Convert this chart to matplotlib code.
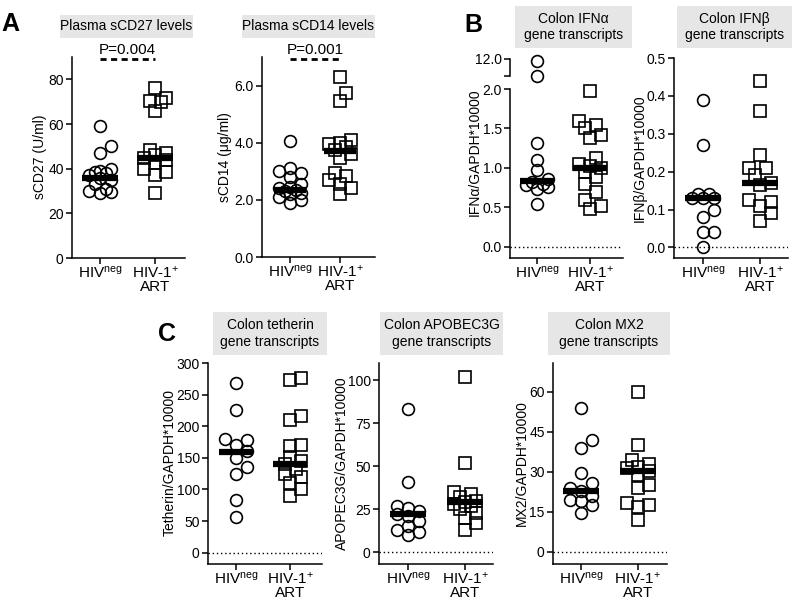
import numpy as np
import matplotlib
matplotlib.use("Agg")
import matplotlib.pyplot as plt
from matplotlib.patches import Rectangle
from matplotlib.ticker import FormatStrFormatter

plt.rcParams['font.family'] = ['Liberation Sans', 'DejaVu Sans']
plt.rcParams['mathtext.default'] = 'regular'

W, H = 800, 601

groups = ["HIV$^{neg}$", "HIV-1$^{+}$\nART"]

# A: plasma markers
scd27_neg = [59, 50, 47, 40, 39, 38.5, 38, 37, 36, 35, 33, 31, 30, 29.5, 29]
scd27_pos = [76, 71.5, 70.5, 70, 66, 48.5, 47, 46, 45, 44, 42.5, 40, 38.5, 37, 29]
scd27_med = [36, 45]
scd14_neg = [4.05, 3.1, 3.0, 2.95, 2.8, 2.55, 2.45, 2.4, 2.35, 2.3, 2.25, 2.2, 2.1, 2.0, 1.9]
scd14_pos = [6.3, 5.75, 5.45, 4.1, 4.0, 3.95, 3.85, 3.75, 3.6, 3.45, 2.95, 2.85, 2.7, 2.55, 2.4, 2.2]
scd14_med = [2.35, 3.7]
p_scd27 = "P=0.004"
p_scd14 = "P=0.001"

# B: colon interferons
ifna_neg = [11.0, 2.2, 1.32, 1.10, 0.97, 0.86, 0.82, 0.80, 0.78, 0.76, 0.74, 0.54]
ifna_pos = [1.98, 1.60, 1.54, 1.50, 1.42, 1.38, 1.13, 1.05, 1.02, 1.00, 0.95, 0.88, 0.80, 0.70, 0.60, 0.52, 0.48]
ifna_med = [0.84, 1.0]
ifnb_neg = [0.39, 0.27, 0.14, 0.14, 0.13, 0.13, 0.13, 0.10, 0.08, 0.04, 0.04, 0.0]
ifnb_pos = [0.44, 0.36, 0.245, 0.21, 0.21, 0.19, 0.17, 0.165, 0.125, 0.12, 0.11, 0.09, 0.07]
ifnb_med = [0.13, 0.17]

# C: restriction factors
teth_neg = [269, 226, 180, 178, 170, 160, 150, 135, 125, 83, 57]
teth_pos = [276, 273, 216, 210, 170, 168, 152, 145, 141, 132, 125, 120, 110, 100, 90]
teth_med = [159, 141]
apo_neg = [83, 41, 27, 26, 24, 22, 21, 18, 15, 13, 12, 10]
apo_pos = [102, 52, 35, 34, 32, 30, 29, 28, 27, 25, 23, 20, 17, 13]
apo_med = [22, 29]
mx2_neg = [54, 42, 39, 29.5, 26, 24, 23, 21, 19.5, 19, 17.5, 14.5]
mx2_pos = [60, 40, 34.5, 33, 32, 31.5, 30.5, 29, 25, 24, 18.5, 17.5, 17, 12]
mx2_med = [23, 30.5]

fig = plt.figure(figsize=(8, 6.01), dpi=100)

TICK_FS = 10
XT_FS = 11
LAB_FS = 10
BOX_FS = 10


def px_axes(l, t, r, b):
    return fig.add_axes([l / W, 1 - b / H, (r - l) / W, (b - t) / H])


def box(l, t, r, b, text):
    fig.add_artist(Rectangle((l / W, 1 - b / H), (r - l) / W, (b - t) / H,
                             transform=fig.transFigure, fc='#e6e6e6', ec='none'))
    fig.text((l + r) / 2 / W, 1 - (t + b) / 2 / H, text, ha='center', va='center',
             fontsize=BOX_FS, linespacing=1.25)


def letter(x, y, s):
    fig.text(x / W, 1 - y / H, s, fontsize=18, fontweight='bold', ha='center', va='center')


def style(ax, xlim, ylim, yticks, fmt):
    ax.set_xlim(*xlim)
    ax.set_ylim(*ylim)
    for s in ['top', 'right']:
        ax.spines[s].set_visible(False)
    for s in ['left', 'bottom']:
        ax.spines[s].set_linewidth(1.1)
    ax.set_yticks(yticks)
    ax.yaxis.set_major_formatter(FormatStrFormatter(fmt))
    ax.set_xticks([0, 1])
    ax.set_xticklabels(groups, fontsize=XT_FS, linespacing=0.95)
    ax.tick_params(axis='both', direction='out', length=4, width=1.1, labelsize=TICK_FS, pad=2)
    ax.tick_params(axis='x', labelsize=XT_FS, pad=1)
    ax.patch.set_visible(False)


def swarm(ys, diam=11.0):
    # spread points sideways (pixel space), GraphPad style: limited width, overlap allowed
    order = np.argsort(ys)
    cands = [0.0, 0.5 * diam, -0.5 * diam, diam, -diam]
    placed = []
    offs = np.zeros(len(ys))
    for i in order:
        best, best_d = 0.0, -1.0
        for c in cands:
            d = min([np.hypot(c - px, ys[i] - py) for px, py in placed] or [99.0])
            if d >= 0.9 * diam:
                best = c
                break
            if d > best_d + 0.5:
                best, best_d = c, d
        placed.append((best, ys[i]))
        offs[i] = best
    return offs


def scatter_group(axes_for, x0, vals, marker, ms):
    vals = np.asarray(vals, float)
    axs = [axes_for(v) for v in vals]
    ys = np.array([a.transData.transform((x0, v))[1] for a, v in zip(axs, vals)])
    offs = swarm(ys)
    for a, v, o in zip(axs, vals, offs):
        px0 = a.transData.transform((x0, v))
        xd = a.transData.inverted().transform((px0[0] + o, px0[1]))[0]
        a.plot([xd], [v], ls='none', marker=marker, ms=ms, mfc='none', mec='k',
               mew=1.2, clip_on=False, zorder=2)


def panel(ax, neg, pos, med, zero_line=True, axes_for=None):
    if axes_for is None:
        axes_for = lambda v: ax
    scatter_group(axes_for, 0, neg, 'o', 8.5)
    scatter_group(axes_for, 1, pos, 's', 9)
    for i, m in enumerate(med):
        ax.hlines(m, i - 0.32, i + 0.32, color='k', lw=4.5, zorder=3)
    if zero_line:
        ax.axhline(0, ls=(0, (1, 2)), lw=1, color='k', zorder=1)


def ylabel(x, y, s):
    fig.text(x / W, 1 - y / H, s, rotation=90, ha='center', va='center', fontsize=LAB_FS)


def pvalue(ax, s):
    tr = ax.get_xaxis_transform()
    ax.plot([0, 1], [0.99, 0.99], transform=tr, color='k', lw=2, ls=(0, (2.2, 1.6)), clip_on=False)
    ax.text(0.5, 1.035, s, transform=tr, ha='center', va='center', fontsize=11)


# ---- panel A ----
ax = px_axes(72, 57, 185, 258)
style(ax, (-0.51, 1.545), (0, 90), [0, 20, 40, 60, 80], '%d')
panel(ax, scd27_neg, scd27_pos, scd27_med, zero_line=False)
pvalue(ax, p_scd27)
ylabel(40, 157, "sCD27 (U/ml)")
box(60, 15, 193, 38, "Plasma sCD27 levels")

ax = px_axes(262, 57, 375, 257)
style(ax, (-0.56, 1.70), (0, 7.0), [0, 2, 4, 6], '%.1f')
panel(ax, scd14_neg, scd14_pos, scd14_med, zero_line=False)
pvalue(ax, p_scd14)
ylabel(225, 157, "sCD14 (\u03bcg/ml)")
box(242, 15, 375, 38, "Plasma sCD14 levels")
letter(10, 24, "A")

# ---- panel B ----
ax = px_axes(510, 89, 623, 258)
style(ax, (-0.51, 1.62), (-0.14, 2.0), [0, 0.5, 1.0, 1.5, 2.0], '%.1f')
up = px_axes(510, 59, 623, 76)
up.set_xlim(-0.51, 1.62)
up.set_ylim(2.0, 12.0)
for s in ['top', 'right', 'bottom']:
    up.spines[s].set_visible(False)
up.spines['left'].set_linewidth(1.1)
up.set_xticks([])
up.set_yticks([2.0, 12.0])
up.set_yticklabels(['', '12.0'])
up.tick_params(axis='y', direction='out', length=4, width=1.1, labelsize=TICK_FS, pad=2)
up.patch.set_visible(False)
panel(ax, ifna_neg, ifna_pos, ifna_med, axes_for=lambda v: up if v > 2.0 else ax)
ylabel(475, 152, "IFN\u03b1/GAPDH*10000")
box(515, 6, 632, 48, "Colon IFN\u03b1\ngene transcripts")

ax = px_axes(674, 58, 788, 258)
style(ax, (-0.51, 1.49), (-0.028, 0.5), [0, 0.1, 0.2, 0.3, 0.4, 0.5], '%.1f')
panel(ax, ifnb_neg, ifnb_pos, ifnb_med)
ylabel(640, 158, "IFN\u03b2/GAPDH*10000")
box(677, 6, 792, 48, "Colon IFN\u03b2\ngene transcripts")
letter(473, 25, "B")

# ---- panel C ----
ax = px_axes(208, 363, 322, 564)
style(ax, (-0.52, 1.59), (-18, 300), [0, 50, 100, 150, 200, 250, 300], '%d')
panel(ax, teth_neg, teth_pos, teth_med)
ylabel(170, 463, "Tetherin/GAPDH*10000")
box(213, 312, 327, 355, "Colon tetherin\ngene transcripts")

ax = px_axes(379, 363, 493, 564)
style(ax, (-0.51, 1.49), (-6.8, 110), [0, 25, 50, 75, 100], '%d')
panel(ax, apo_neg, apo_pos, apo_med)
ylabel(342, 463, "APOPEC3G/GAPDH*10000")
box(380, 312, 503, 355, "Colon APOBEC3G\ngene transcripts")

ax = px_axes(553, 363, 667, 564)
style(ax, (-0.49, 1.515), (-4.5, 70.8), [0, 15, 30, 45, 60], '%d')
panel(ax, mx2_neg, mx2_pos, mx2_med)
ylabel(522, 463, "MX2/GAPDH*10000")
box(548, 312, 670, 355, "Colon MX2\ngene transcripts")
letter(167, 334, "C")

fig.savefig("out.png", dpi=100)
